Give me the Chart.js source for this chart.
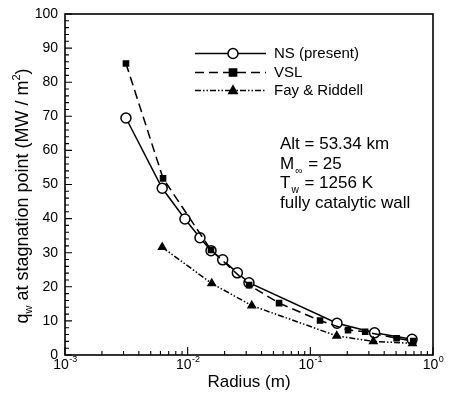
<!DOCTYPE html>
<html><head><meta charset="utf-8">
<script src="https://cdn.jsdelivr.net/npm/chart.js@4.4.1/dist/chart.umd.min.js"></script>
<style>html,body{margin:0;padding:0;background:#fff}canvas{display:block}</style>
</head><body><canvas id="c" width="451" height="397"></canvas>
<script>
// ---- data ----
const nsRadius = [0.00314, 0.0062, 0.0095, 0.0126, 0.0155, 0.0193, 0.0254, 0.0316, 0.165, 0.334, 0.675];
const nsHeat   = [69.5, 48.9, 39.9, 34.4, 30.6, 27.9, 24.1, 21.2, 9.3, 6.5, 4.6];
const vslRadius = [0.00314, 0.0063, 0.0155, 0.0317, 0.0556, 0.120, 0.203, 0.280, 0.505, 0.69];
const vslHeat   = [85.5, 51.8, 30.8, 20.5, 15.2, 10.1, 7.3, 6.8, 4.9, 4.1];
const frRadius = [0.0062, 0.0157, 0.0333, 0.164, 0.326, 0.68];
const frHeat   = [31.6, 21.0, 14.5, 5.6, 4.0, 3.4];
const seriesNames = ['NS (present)', 'VSL', 'Fay & Riddell'];
const yTicks = [0, 10, 20, 30, 40, 50, 60, 70, 80, 90, 100];
const xDecades = [-3, -2, -1, 0];
const annotation = ['Alt = 53.34 km', 'M|∞| = 25', 'T|w| = 1256 K', 'fully catalytic wall'];

const FONT = '"Liberation Sans", Arial, Helvetica, sans-serif';
const pts = (xs, ys) => xs.map((x, i) => ({x, y: ys[i]}));
const styles = [
  {dash: [], point: 'circle', radius: 5, fill: '#fff'},
  {dash: [9, 5], point: 'rect', radius: 3.6, fill: '#000'},
  {dash: [6, 2, 1.5, 2, 1.5, 2], point: 'triangle', radius: 4.2, fill: '#000'}
];

function drawMarker(ctx, st, x, y) {
  ctx.save();
  ctx.setLineDash([]);
  ctx.fillStyle = st.fill; ctx.strokeStyle = '#000'; ctx.lineWidth = 1.5;
  ctx.beginPath();
  if (st.point === 'circle') { ctx.arc(x, y, st.radius, 0, Math.PI * 2); }
  else if (st.point === 'rect') { ctx.rect(x - st.radius, y - st.radius, st.radius * 2, st.radius * 2); }
  else { const r = st.radius; ctx.moveTo(x, y - r * 1.1); ctx.lineTo(x + r, y + r * 0.7); ctx.lineTo(x - r, y + r * 0.7); ctx.closePath(); }
  ctx.fill(); ctx.stroke();
  ctx.restore();
}

function drawSubText(ctx, str, x, y, size) {
  // segments separated by | : odd segments are subscripts
  const parts = str.split('|');
  let cx = x;
  parts.forEach((p, i) => {
    ctx.font = (i % 2 ? size * 0.6 : size) + 'px ' + FONT;
    ctx.fillText(p, cx + (i % 2 ? 1 : 0), i % 2 ? y + size * 0.3 : y);
    cx += ctx.measureText(p).width + (i % 2 ? 2 : 0);
  });
}

const framePlugin = {
  id: 'frame',
  beforeDatasetsDraw(chart) {
    const {ctx, chartArea: a, scales: {x, y}} = chart;
    ctx.save();
    ctx.strokeStyle = '#000'; ctx.lineWidth = 1.6;
    ctx.strokeRect(a.left, a.top, a.right - a.left, a.bottom - a.top);
    ctx.lineWidth = 1.1;
    ctx.beginPath();
    for (let v = 0; v <= 100; v += 2) {
      const py = y.getPixelForValue(v);
      const len = v % 10 === 0 ? 7 : 4;
      ctx.moveTo(a.left, py); ctx.lineTo(a.left + len, py);
    }
    xDecades.forEach(d => {
      for (let m = 1; m <= 9; m++) {
        const v = m * Math.pow(10, d);
        if (v > 1.0001) break;
        const px = x.getPixelForValue(v);
        const len = m === 1 ? 8 : 4;
        ctx.moveTo(px, a.bottom); ctx.lineTo(px, a.bottom - len);
      }
    });
    ctx.stroke();
    ctx.restore();
  },
  afterDraw(chart) {
    const {ctx, chartArea: a, scales: {x, y}} = chart;
    ctx.save();
    ctx.fillStyle = '#000';
    // y tick labels
    ctx.font = '14px ' + FONT; ctx.textAlign = 'right'; ctx.textBaseline = 'middle';
    yTicks.forEach(v => ctx.fillText(String(v), a.left - 7, y.getPixelForValue(v)));
    // x tick labels 10^n
    ctx.textBaseline = 'alphabetic'; ctx.textAlign = 'left';
    xDecades.forEach(d => {
      const px = x.getPixelForValue(Math.pow(10, d));
      ctx.font = '14px ' + FONT; const w1 = ctx.measureText('10').width;
      const e = d === 0 ? '0' : '-' + (-d);
      ctx.font = '9px ' + FONT; const w2 = ctx.measureText(e).width;
      const sx = px - (w1 + w2) / 2;
      ctx.font = '14px ' + FONT; ctx.fillText('10', sx, a.bottom + 14);
      ctx.font = '9px ' + FONT; ctx.fillText(e, sx + w1 + 0.5, a.bottom + 7);
    });
    // x axis title
    ctx.font = '17px ' + FONT; ctx.textAlign = 'center';
    ctx.fillText('Radius (m)', (a.left + a.right) / 2, a.bottom + 32);
    // y axis title with subscript / superscript
    ctx.translate(28, 196);
    ctx.rotate(-Math.PI / 2);
    const s = 18, ss = 11;
    const segs = [['q', s, 0], ['w', ss, 4], [' at stagnation point (MW / m', s, 0], ['2', ss, -8], [')', s, 0]];
    let tw = 0;
    segs.forEach(g => { ctx.font = g[1] + 'px ' + FONT; tw += ctx.measureText(g[0]).width; });
    let cx = -tw / 2; ctx.textAlign = 'left';
    segs.forEach(g => { ctx.font = g[1] + 'px ' + FONT; ctx.fillText(g[0], cx, g[2]); cx += ctx.measureText(g[0]).width; });
    ctx.restore();

    // legend
    ctx.save();
    const lx0 = a.left + 130, lx1 = a.left + 201, mx = a.left + 168, tx = a.left + 209;
    const rows = [53.5, 72.5, 90.5];
    seriesNames.forEach((name, i) => {
      const ry = a.top + rows[i] - 14;
      ctx.strokeStyle = '#000'; ctx.lineWidth = 1.4; ctx.setLineDash(styles[i].dash);
      ctx.beginPath(); ctx.moveTo(lx0, ry); ctx.lineTo(lx1, ry); ctx.stroke();
      drawMarker(ctx, styles[i], mx, ry);
      ctx.fillStyle = '#000'; ctx.font = '15px ' + FONT; ctx.textAlign = 'left'; ctx.textBaseline = 'middle';
      ctx.fillText(name, tx, ry);
    });
    // annotation
    ctx.textBaseline = 'alphabetic';
    annotation.forEach((line, i) => {
      drawSubText(ctx, line, a.left + 215, a.top + 135 + i * 19.6, 17);
    });
    ctx.restore();
  }
};

const datasets = [pts(nsRadius, nsHeat), pts(vslRadius, vslHeat), pts(frRadius, frHeat)].map((d, i) => ({
  label: seriesNames[i], data: d,
  borderColor: '#000', borderWidth: 1.5, borderDash: styles[i].dash,
  backgroundColor: styles[i].fill, pointBackgroundColor: styles[i].fill,
  pointBorderColor: '#000', pointBorderWidth: 1.5,
  pointStyle: styles[i].point, pointRadius: styles[i].radius,
  tension: 0, fill: false, showLine: true
}));
// draw NS on top
datasets.reverse();

new Chart(document.getElementById('c'), {
  type: 'scatter',
  data: {datasets},
  options: {
    responsive: false, animation: false, devicePixelRatio: 1,
    layout: {padding: {left: 65, right: 18, top: 14, bottom: 42}},
    plugins: {legend: {display: false}, tooltip: {enabled: false}},
    scales: {
      x: {type: 'logarithmic', min: 0.001, max: 1, display: false},
      y: {type: 'linear', min: 0, max: 100, display: false}
    }
  },
  plugins: [framePlugin]
});
</script></body></html>
